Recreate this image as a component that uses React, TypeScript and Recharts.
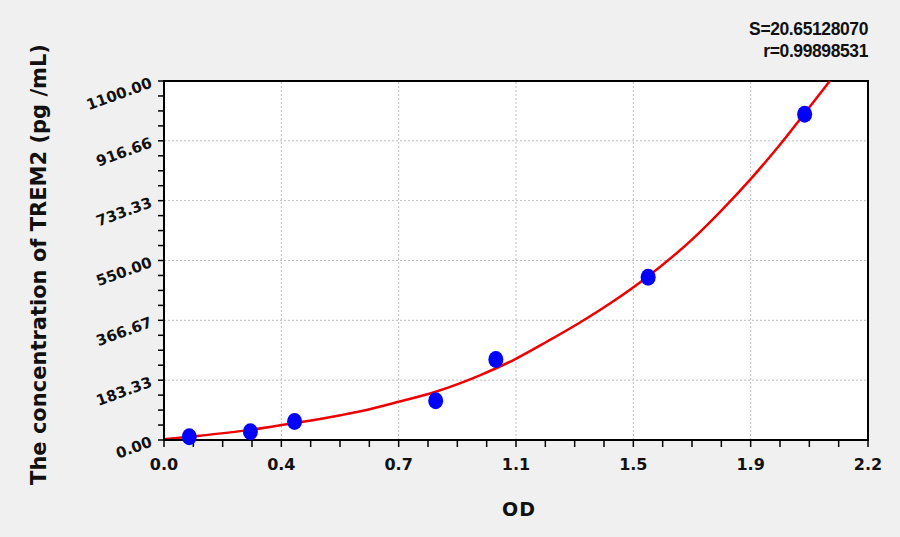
import {
  CartesianGrid,
  ComposedChart,
  Label,
  Line,
  ReferenceArea,
  ReferenceLine,
  Scatter,
  XAxis,
  YAxis
} from "recharts";

// standards (OD, concentration)
const standardOd = [0.079, 0.27, 0.408, 0.849, 1.037, 1.513, 2.002];
const standardConc = [10, 25, 57, 120, 247, 499, 998];

// fitted curve
const fitOd = [0, 0.081, 0.27, 0.404, 0.552, 0.614, 0.733, 0.849, 0.989, 1.092, 1.196, 1.3, 1.404, 1.508, 1.654, 1.758, 1.829, 1.915, 1.998, 2.081];
const fitConc = [2, 10, 31, 51, 76, 88, 117, 148, 199, 245, 301, 360, 425, 498, 618, 720, 795, 893, 996, 1100];

const xMajorTicks = [0, 0.36667, 0.73333, 1.1, 1.46667, 1.83333, 2.2];
const xTickLabels = ["0.0", "0.4", "0.7", "1.1", "1.5", "1.9", "2.2"];
const yMajorTicks = [0, 183.33, 366.67, 550, 733.33, 916.66, 1100];
const yTickLabels = ["0.00", "183.33", "366.67", "550.00", "733.33", "916.66", "1100.00"];

const fitStats = ["S=20.65128070", "r=0.99898531"];

const standardData = standardOd.map((od, i) => ({ od, conc: standardConc[i] }));
const fitData = fitOd.map((od, i) => ({ od, conc: fitConc[i] }));

// major ticks plus 3 minor ticks in each interval
function withMinor(majors: number[]) {
  const out: number[] = [];
  for (let i = 0; i < majors.length - 1; i++) {
    const step = (majors[i + 1] - majors[i]) / 4;
    for (let k = 0; k < 4; k++) out.push(majors[i] + step * k);
  }
  out.push(majors[majors.length - 1]);
  return out;
}

const xAllTicks = withMinor(xMajorTicks);
const yAllTicks = withMinor(yMajorTicks);

const majorIndex = (majors: number[], v: number) =>
  majors.findIndex((m) => Math.abs(m - v) < 1e-6);

const tickFont = "'DejaVu Sans', sans-serif";

function XTick({ x, y, payload }: any) {
  const i = majorIndex(xMajorTicks, payload.value);
  if (i < 0) return null;
  return (
    <text x={x} y={y + 21} textAnchor="middle" fontFamily={tickFont} fontWeight="bold" fontSize={16} fill="#111">
      {xTickLabels[i]}
    </text>
  );
}

function YTick({ x, y, payload }: any) {
  const i = majorIndex(yMajorTicks, payload.value);
  if (i < 0) return null;
  const ax = x - 3;
  const ay = y + 6;
  return (
    <text
      x={ax}
      y={ay}
      textAnchor="end"
      transform={`rotate(-20, ${ax}, ${ay})`}
      fontFamily={tickFont}
      fontWeight="bold"
      fontSize={15}
      fill="#111"
    >
      {yTickLabels[i]}
    </text>
  );
}

function Dot({ cx, cy }: any) {
  return <ellipse cx={cx} cy={cy} rx={7.5} ry={8.5} fill="#0000ff" />;
}

export default function App() {
  return (
    <div style={{ position: "absolute", left: 0, top: 0, width: 900, height: 537, background: "#f0f0f0" }}>
      {fitStats.map((s, i) => (
        <div
          key={s}
          style={{
            position: "absolute",
            right: 32,
            top: 21 + i * 22,
            fontFamily: "'Liberation Sans', Arial, sans-serif",
            fontWeight: "bold",
            fontSize: 17.5,
            lineHeight: "17px",
            letterSpacing: -0.4,
            color: "#111"
          }}
        >
          {s}
        </div>
      ))}
      <ComposedChart width={900} height={537} margin={{ top: 81, right: 32, bottom: 0, left: 0 }}>
        <CartesianGrid fill="#ffffff" horizontal={false} vertical={false} />
        {xMajorTicks.slice(1, -1).map((v) => (
          <ReferenceLine key={`gx${v}`} x={v} stroke="#bdbdbd" strokeDasharray="2 2" />
        ))}
        {yMajorTicks.slice(1, -1).map((v) => (
          <ReferenceLine key={`gy${v}`} y={v} stroke="#bdbdbd" strokeDasharray="2 2" />
        ))}
        <XAxis
          type="number"
          dataKey="od"
          domain={[0, 2.2]}
          ticks={xAllTicks}
          interval={0}
          height={97}
          tickSize={7}
          axisLine={{ stroke: "#000", strokeWidth: 2 }}
          tickLine={{ stroke: "#000", strokeWidth: 1.5 }}
          tick={<XTick />}
        >
          <Label
            content={({ viewBox }: any) => (
              <text
                x={viewBox.x + viewBox.width / 2 + 3}
                y={516}
                textAnchor="middle"
                fontFamily={tickFont}
                fontWeight="bold"
                fontSize={19}
                letterSpacing={1}
                fill="#111"
              >
                OD
              </text>
            )}
          />
        </XAxis>
        <YAxis
          type="number"
          dataKey="conc"
          domain={[0, 1100]}
          ticks={yAllTicks}
          interval={0}
          width={164}
          tickSize={6}
          axisLine={{ stroke: "#000", strokeWidth: 2 }}
          tickLine={{ stroke: "#000", strokeWidth: 1.5 }}
          tick={<YTick />}
        >
          <Label
            content={({ viewBox }: any) => {
              const cx = viewBox.x + 39;
              const cy = viewBox.y + viewBox.height / 2 + 4;
              return (
                <text
                  x={cx}
                  y={cy}
                  textAnchor="middle"
                  dominantBaseline="central"
                  transform={`rotate(-90, ${cx}, ${cy})`}
                  fontFamily={tickFont}
                  fontWeight="bold"
                  fontSize={21}
                  fill="#111"
                >
                  The concentration of TREM2 (pg /mL)
                </text>
              );
            }}
          />
        </YAxis>
        <ReferenceArea x1={0} x2={2.2} y1={0} y2={1100} fill="none" stroke="#000" strokeWidth={2} />
        <Scatter data={standardData} dataKey="conc" shape={<Dot />} isAnimationActive={false} />
        <Line
          data={fitData}
          dataKey="conc"
          type="monotone"
          stroke="#ee0000"
          strokeWidth={2.5}
          dot={false}
          activeDot={false}
          isAnimationActive={false}
        />
      </ComposedChart>
    </div>
  );
}
